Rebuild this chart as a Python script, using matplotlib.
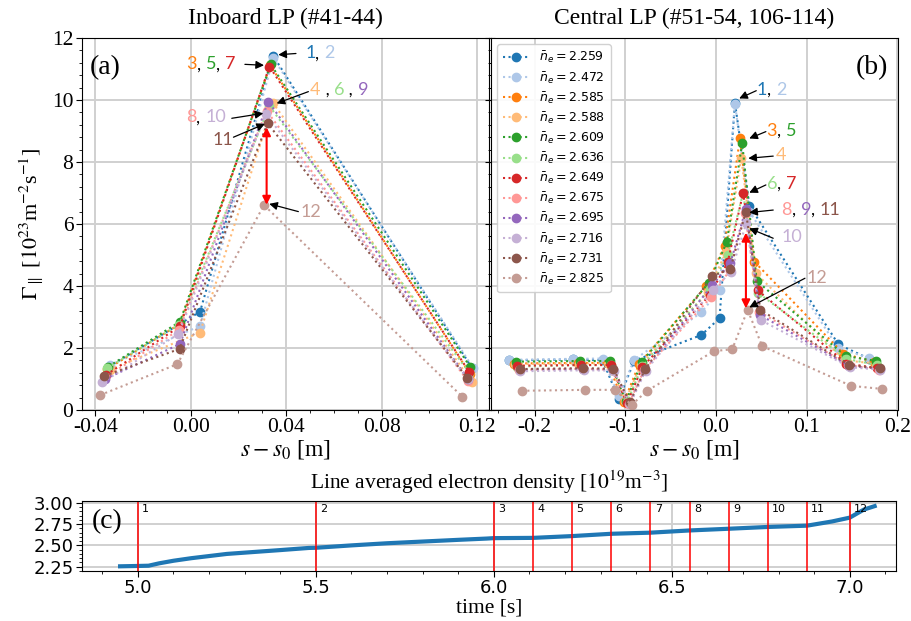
import matplotlib
matplotlib.use("Agg")
import matplotlib.pyplot as plt
from matplotlib.ticker import AutoMinorLocator, MultipleLocator, FormatStrFormatter
from matplotlib.font_manager import FontProperties

plt.rcParams['font.family'] = ['Liberation Serif', 'DejaVu Serif']
plt.rcParams['mathtext.fontset'] = 'stix'
plt.rcParams['axes.unicode_minus'] = False

# ---------------- data ----------------
ne_values = [2.259, 2.472, 2.585, 2.588, 2.609, 2.636, 2.649, 2.675, 2.695, 2.716, 2.731, 2.825]
colors = ['#1f77b4', '#aec7e8', '#ff7f0e', '#ffbb78', '#2ca02c', '#98df8a',
          '#d62728', '#ff9896', '#9467bd', '#c5b0d5', '#8c564b', '#c49c94']

# Panel (a): inboard LP, 4 probes per shot time
inboard_x = [
    [-0.0342, 0.0039, 0.0346, 0.1180],
    [-0.0338, 0.0039, 0.0346, 0.1183],
    [-0.0352, -0.0045, 0.0333, 0.1170],
    [-0.0340, 0.0039, 0.0346, 0.1180],
    [-0.0345, -0.0045, 0.0335, 0.1172],
    [-0.0350, -0.0048, 0.0330, 0.1168],
    [-0.0355, -0.0045, 0.0330, 0.1166],
    [-0.0358, -0.0050, 0.0318, 0.1160],
    [-0.0358, -0.0045, 0.0325, 0.1162],
    [-0.0370, -0.0052, 0.0315, 0.1160],
    [-0.0362, -0.0047, 0.0322, 0.1158],
    [-0.0380, -0.0056, 0.0307, 0.1138],
]
inboard_y = [
    [1.40, 3.17, 11.42, 1.34],
    [1.45, 2.71, 11.35, 1.36],
    [1.31, 2.78, 11.12, 1.17],
    [1.30, 2.50, 9.89, 0.89],
    [1.40, 2.85, 11.15, 1.38],
    [1.35, 2.75, 9.80, 1.20],
    [1.13, 2.70, 11.08, 1.24],
    [1.05, 2.58, 9.65, 0.95],
    [1.00, 2.13, 9.95, 1.00],
    [0.89, 2.45, 9.55, 1.00],
    [1.10, 1.97, 9.25, 1.04],
    [0.48, 1.48, 6.61, 0.43],
]

# Panel (b): central LP probe positions s (relative) and per-shot s0 offsets
central_s = [-0.214, -0.144, -0.111, -0.093, -0.076, -0.002, 0.018, 0.035, 0.051, 0.149, 0.183]
central_s0 = [0.014, 0.014, 0.0085, 0.007, 0.006, 0.005, 0.005, 0.003, 0.002, 0.0015, 0.002, 0.0]
central_y = [
    [1.60, 1.63, 1.61, 0.34, 1.59, 2.42, 2.96, 9.91, 6.59, 2.12, 1.65],
    [1.62, 1.65, 1.66, 0.45, 1.62, 3.15, 3.87, 9.88, 6.40, 1.99, 1.68],
    [1.50, 1.52, 1.52, 0.25, 1.50, 4.00, 5.30, 8.76, 4.78, 1.82, 1.55],
    [1.48, 1.50, 1.50, 0.30, 1.45, 3.80, 5.09, 8.12, 4.41, 1.60, 1.50],
    [1.56, 1.58, 1.58, 0.28, 1.55, 4.10, 5.41, 8.60, 4.16, 1.74, 1.58],
    [1.40, 1.45, 1.45, 0.25, 1.42, 3.90, 5.00, 7.00, 3.79, 1.65, 1.45],
    [1.43, 1.45, 1.45, 0.22, 1.39, 3.70, 4.76, 7.01, 3.86, 1.50, 1.35],
    [1.30, 1.33, 1.30, 0.20, 1.30, 3.65, 4.50, 6.34, 3.17, 1.45, 1.30],
    [1.30, 1.32, 1.30, 0.22, 1.30, 4.03, 4.74, 6.48, 3.06, 1.42, 1.33],
    [1.25, 1.28, 1.27, 0.20, 1.27, 3.87, 4.45, 6.02, 2.90, 1.38, 1.30],
    [1.32, 1.35, 1.33, 0.25, 1.32, 4.32, 4.55, 6.40, 3.23, 1.45, 1.34],
    [0.62, 0.65, 0.65, 0.16, 0.62, 1.90, 1.96, 3.23, 2.06, 0.78, 0.68],
]

# Panel (c): line averaged density trace (key points) and analysis times
trace_t = [4.95, 5.00, 5.03, 5.06, 5.10, 5.15, 5.20, 5.25, 5.30, 5.40, 5.48, 5.50, 5.60, 5.70, 5.80,
           5.90, 5.98, 6.00, 6.11, 6.22, 6.33, 6.44, 6.55, 6.66, 6.77, 6.88, 6.95, 7.00, 7.04, 7.07]
trace_ne = [2.255, 2.259, 2.262, 2.29, 2.32, 2.35, 2.375, 2.40, 2.415, 2.445, 2.47, 2.472, 2.50, 2.525, 2.545,
            2.565, 2.58, 2.585, 2.588, 2.609, 2.636, 2.649, 2.675, 2.695, 2.716, 2.731, 2.78, 2.825, 2.92, 2.96]
event_times = [5.00, 5.50, 6.00, 6.11, 6.22, 6.33, 6.44, 6.55, 6.66, 6.77, 6.88, 7.00]
event_labels = [str(i) for i in range(1, 13)]

# ---------------- figure ----------------
W, H = 912, 621
fig = plt.figure(figsize=(W / 100, H / 100), dpi=100)

def box(l, t, r, b):
    return [l / W, 1 - b / H, (r - l) / W, (b - t) / H]

ax_a = fig.add_axes(box(81.7, 38, 489, 410))
ax_b = fig.add_axes(box(491, 38, 898, 410), sharey=ax_a)
ax_c = fig.add_axes(box(82, 501, 896, 571))

grid_kw = dict(color='#d0d0d0', linewidth=1.4)

for i in range(12):
    ax_a.plot(inboard_x[i], inboard_y[i], ':', marker='o', color=colors[i],
              markersize=6, linewidth=1.5)
    xb = [s - central_s0[i] for s in central_s]
    ax_b.plot(xb, central_y[i], ':', marker='o', color=colors[i],
              markersize=6, linewidth=1.5, label=r'$\bar{n}_e = %.3f$' % ne_values[i])

# axes (a)
ax_a.set_xlim(-0.0457, 0.125)
ax_a.set_ylim(0, 12)
ax_a.xaxis.set_major_locator(MultipleLocator(0.04))
ax_a.xaxis.set_major_formatter(FormatStrFormatter('%.2f'))
ax_a.yaxis.set_major_locator(MultipleLocator(2))
ax_a.yaxis.set_minor_locator(MultipleLocator(0.4))
ax_a.xaxis.set_minor_locator(AutoMinorLocator(4))
ax_a.grid(True, which='major', **grid_kw)
ax_a.set_axisbelow(True)
ax_a.tick_params(axis='both', which='major', labelsize=15.5, direction='out', length=4, pad=2)
ax_a.tick_params(axis='y', which='both', right=True)
ax_a.tick_params(which='minor', length=2)
ax_a.set_title('Inboard LP (#41-44)', fontsize=17, pad=10)
ax_a.set_xlabel(r'$s - s_0$ [m]', fontsize=17, labelpad=0.5)
ax_a.set_ylabel(r'$\Gamma_{\parallel}$ [$10^{23}$m$^{-2}$s$^{-1}$]', fontsize=16, labelpad=4)
ax_a.text(0.02, 0.955, '(a)', transform=ax_a.transAxes, fontsize=20, va='top', ha='left')

# axes (b)
ax_b.set_xlim(-0.248, 0.2008)
ax_b.xaxis.set_major_locator(MultipleLocator(0.1))
ax_b.xaxis.set_major_formatter(FormatStrFormatter('%.1f'))
ax_b.xaxis.set_minor_locator(AutoMinorLocator(5))
ax_b.grid(True, which='major', **grid_kw)
ax_b.set_axisbelow(True)
ax_b.tick_params(axis='both', which='major', labelsize=15.5, direction='out', length=4, pad=2)
ax_b.tick_params(which='minor', length=2)
ax_b.tick_params(axis='y', which='both', labelleft=False, left=True)
ax_b.set_title('Central LP (#51-54, 106-114)', fontsize=17, pad=10)
ax_b.set_xlabel(r'$s - s_0$ [m]', fontsize=17, labelpad=0.5)
ax_b.text(0.975, 0.955, '(b)', transform=ax_b.transAxes, fontsize=20, va='top', ha='right')

leg_prop = FontProperties(family='DejaVu Sans', size=9, math_fontfamily='dejavusans')
ax_b.legend(loc='upper left', prop=leg_prop, frameon=True, framealpha=0.9,
            borderaxespad=0.5, labelspacing=0.36, handlelength=2.1, borderpad=0.45)

# colored annotations
ann_font = 'Lato'
ann_size = 13

def rainbow(ax, x, y, parts):
    t = ax.text(x, y, parts[0][0], color=parts[0][1], fontsize=ann_size,
                family=ann_font, va='center', ha='left')
    for s, c in parts[1:]:
        t = ax.annotate(s, xy=(1, 0), xycoords=t, va='bottom', ha='left',
                        color=c, fontsize=ann_size, family=ann_font)

def arrow(ax, tail, tip, color='black', style='-|>', lw=0.9):
    ax.annotate('', xy=tip, xytext=tail,
                arrowprops=dict(arrowstyle=style, color=color, lw=lw,
                                mutation_scale=12, shrinkA=0, shrinkB=0))

K = 'black'
# panel (a)
rainbow(ax_a, 0.0479, 11.50, [('1', colors[0]), (', ', K), ('2', colors[1])])
arrow(ax_a, (0.0441, 11.50), (0.0367, 11.46))
rainbow(ax_a, -0.0017, 11.15, [('3', colors[2]), (', ', K), ('5', colors[4]), (', ', K), ('7', colors[6])])
arrow(ax_a, (0.0227, 11.15), (0.0307, 11.12))
rainbow(ax_a, 0.0500, 10.32, [('4', colors[3]), (' , ', K), ('6', colors[5]), (' , ', K), ('9', colors[8])])
arrow(ax_a, (0.0493, 10.27), (0.0360, 9.89))
rainbow(ax_a, -0.0020, 9.44, [('8', colors[7]), (', ', K), ('10', colors[9])])
arrow(ax_a, (0.0172, 9.41), (0.0304, 9.57))
rainbow(ax_a, 0.0093, 8.71, [('11', colors[10])])
arrow(ax_a, (0.0179, 8.80), (0.0311, 9.23))
rainbow(ax_a, 0.0458, 6.40, [('12', colors[11])])
arrow(ax_a, (0.0451, 6.40), (0.0329, 6.65))
arrow(ax_a, (0.0318, 6.62), (0.0318, 9.12), color='red', style='<|-|>', lw=1.5)

# panel (b)
rainbow(ax_b, 0.0449, 10.32, [('1', colors[0]), (', ', K), ('2', colors[1])])
arrow(ax_b, (0.0445, 10.30), (0.0257, 10.05))
rainbow(ax_b, 0.0559, 9.01, [('3', colors[2]), (', ', K), ('5', colors[4])])
arrow(ax_b, (0.0551, 8.98), (0.0368, 8.76))
rainbow(ax_b, 0.0662, 8.23, [('4', colors[3])])
arrow(ax_b, (0.0632, 8.19), (0.0357, 8.12))
rainbow(ax_b, 0.0559, 7.29, [('6', colors[5]), (', ', K), ('7', colors[6])])
arrow(ax_b, (0.0551, 7.26), (0.0368, 7.01))
rainbow(ax_b, 0.0724, 6.45, [('8', colors[7]), (', ', K), ('9', colors[8]), (', ', K), ('11', colors[10])])
arrow(ax_b, (0.0632, 6.45), (0.0368, 6.37))
rainbow(ax_b, 0.0724, 5.59, [('10', colors[9])])
arrow(ax_b, (0.0632, 5.54), (0.0368, 5.86))
rainbow(ax_b, 0.1000, 4.25, [('12', colors[11])])
arrow(ax_b, (0.0982, 4.25), (0.0368, 3.31))
arrow(ax_b, (0.0331, 3.28), (0.0331, 5.72), color='red', style='<|-|>', lw=1.5)

# axes (c)
ax_c.plot(trace_t, trace_ne, '-', color='#1f77b4', linewidth=3.0)
for t, lab in zip(event_times, event_labels):
    ax_c.axvline(t, color='red', linewidth=1.1)
    ax_c.text(t + 0.012, 2.99, lab, fontsize=8, family='DejaVu Sans', va='top', ha='left')
ax_c.set_xlim(4.843, 7.13)
ax_c.set_ylim(2.2, 3.02)
ax_c.xaxis.set_major_locator(MultipleLocator(0.5))
ax_c.xaxis.set_major_formatter(FormatStrFormatter('%.1f'))
ax_c.xaxis.set_minor_locator(MultipleLocator(0.1))
ax_c.yaxis.set_major_locator(MultipleLocator(0.25))
ax_c.yaxis.set_major_formatter(FormatStrFormatter('%.2f'))
ax_c.yaxis.set_minor_locator(MultipleLocator(0.05))
ax_c.grid(True, which='major', **grid_kw)
ax_c.set_axisbelow(True)
ax_c.tick_params(axis='both', which='major', labelsize=13, direction='out', length=4, pad=2)
for lbl in ax_c.get_xticklabels() + ax_c.get_yticklabels():
    lbl.set_family('DejaVu Sans')
ax_c.tick_params(which='minor', length=2)
ax_c.set_title('Line averaged electron density [$10^{19}$m$^{-3}$]', fontsize=15.5, pad=9)
ax_c.set_xlabel('time [s]', fontsize=15.5, labelpad=1)
ax_c.text(0.012, 0.88, '(c)', transform=ax_c.transAxes, fontsize=20, va='top', ha='left')

fig.savefig('out.png', dpi=100)
